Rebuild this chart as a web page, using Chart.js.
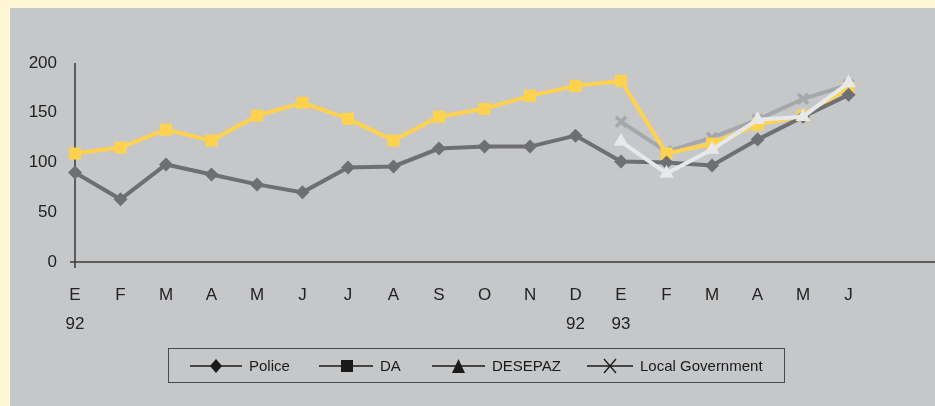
<!DOCTYPE html>
<html>
<head>
<meta charset="utf-8">
<script src="https://cdn.jsdelivr.net/npm/chart.js@4"></script>
<style>
  html, body { margin: 0; padding: 0; }
  body { width: 935px; height: 406px; background: #fff6d6; position: relative; overflow: hidden;
         font-family: "Liberation Sans", Arial, sans-serif; }
  #panel { position: absolute; left: 10px; top: 8px; right: 0; bottom: 0; background: #c6c7c9; }
  #wrap { position: absolute; left: 0; top: 0; width: 935px; height: 406px; }
  #legend { position: absolute; left: 168px; top: 348px; width: 615px; height: 33px;
            border: 1.5px solid #4a4a4a; }
  .item { position: absolute; top: 0; height: 33px; display: flex; align-items: center;
          font-size: 15px; color: #1a1a1a; white-space: nowrap; }
  .item svg { margin-right: 7px; }
</style>
</head>
<body>
<div id="panel"></div>
<div id="wrap"><canvas id="c" width="935" height="406"></canvas></div>
<div id="legend"></div>
<script>
const categories = [["E","92"],"F","M","A","M","J","J","A","S","O","N",["D","92"],["E","93"],"F","M","A","M","J"];
const police = [90, 63, 98, 88, 78, 70, 95, 96, 114, 116, 116, 127, 101, 100, 97, 123, 146, 168];
const da = [109, 115, 133, 122, 147, 160, 144, 122, 146, 154, 167, 177, 182, 109, 119, 138, 147, 175];
const desepaz = [null, null, null, null, null, null, null, null, null, null, null, null, 121, 89, 113, 143, 146, 180];
const localGov = [null, null, null, null, null, null, null, null, null, null, null, null, 141, 111, 125, 143, 164, 178];
const yTicks = [0, 50, 100, 150, 200];
const seriesNames = ["Police", "DA", "DESEPAZ", "Local Government"];

function pts(arr) {
  const out = [];
  arr.forEach((v, i) => { if (v !== null) out.push({x: i, y: v}); });
  return out;
}

const axisPlugin = {
  id: 'axisLines',
  beforeDatasetsDraw(chart) {
    const ctx = chart.ctx, xs = chart.scales.x, ys = chart.scales.y;
    const y0 = ys.getPixelForValue(0), x0 = xs.getPixelForValue(0);
    ctx.save();
    ctx.strokeStyle = '#3a3a3a';
    ctx.lineWidth = 1.5;
    ctx.beginPath();
    ctx.moveTo(xs.left - 5, y0); ctx.lineTo(xs.right, y0);
    ctx.moveTo(x0, ys.getPixelForValue(200)); ctx.lineTo(x0, y0 + 6);
    ctx.stroke();
    ctx.restore();
  }
};

const tickFont = { family: '"Liberation Sans", Arial, sans-serif', size: 17, lineHeight: '29px' };

new Chart(document.getElementById('c'), {
  type: 'line',
  data: {
    datasets: [
      { label: seriesNames[0], data: pts(police), borderColor: '#6e6f72', backgroundColor: '#6e6f72',
        borderWidth: 4, pointStyle: 'rectRot', pointRadius: 7, pointBorderWidth: 0, order: 1 },
      { label: seriesNames[1], data: pts(da), borderColor: '#fed24e', backgroundColor: '#fed24e',
        borderWidth: 4, pointStyle: 'rect', pointRadius: 8.5, pointBorderWidth: 0, order: 2 },
      { label: seriesNames[2], data: pts(desepaz), borderColor: '#e7e8e9', backgroundColor: '#e7e8e9',
        borderWidth: 4, pointStyle: 'triangle', pointRadius: 8.5, pointBorderWidth: 0, order: 0 },
      { label: seriesNames[3], data: pts(localGov), borderColor: '#a6a7aa', backgroundColor: '#a6a7aa',
        borderWidth: 4, pointStyle: 'crossRot', pointRadius: 7, pointBorderWidth: 3.5,
        pointBorderColor: '#a6a7aa', order: 3 }
    ]
  },
  options: {
    responsive: false,
    animation: false,
    clip: false,
    layout: { autoPadding: false, padding: { top: 63, bottom: 64, left: 0, right: 0 } },
    plugins: { legend: { display: false }, tooltip: { enabled: false } },
    elements: { line: { tension: 0 } },
    scales: {
      x: {
        type: 'linear', min: 0, max: 18.9,
        grid: { display: false, drawTicks: false },
        border: { display: false },
        afterBuildTicks(s) { s.ticks = categories.map((c, i) => ({ value: i })); },
        afterFit(s) { s.height = 80; s.paddingRight = 0; s.paddingLeft = 0; },
        ticks: {
          autoSkip: false, maxRotation: 0, padding: 19, color: '#222', font: tickFont,
          callback: (v) => categories[v]
        }
      },
      y: {
        min: 0, max: 200,
        grid: { display: false, drawTicks: false },
        border: { display: false },
        afterBuildTicks(s) { s.ticks = yTicks.map(v => ({ value: v })); },
        afterFit(s) { s.width = 75; },
        ticks: { padding: 18, color: '#222', font: { family: '"Liberation Sans", Arial, sans-serif', size: 17 } }
      }
    }
  },
  plugins: [axisPlugin]
});

// Legend (HTML, Excel style line + marker icons)
const icons = [
  '<svg width="52" height="16"><line x1="0" y1="8" x2="52" y2="8" stroke="#1a1a1a" stroke-width="1.3"/><polygon points="26,1 32,8 26,15 20,8" fill="#1a1a1a"/></svg>',
  '<svg width="54" height="16"><line x1="0" y1="8" x2="54" y2="8" stroke="#1a1a1a" stroke-width="1.3"/><rect x="22" y="2" width="12" height="12" fill="#1a1a1a"/></svg>',
  '<svg width="53" height="16"><line x1="0" y1="8" x2="53" y2="8" stroke="#1a1a1a" stroke-width="1.3"/><polygon points="26.5,1 33,15 20,15" fill="#1a1a1a"/></svg>',
  '<svg width="46" height="16"><line x1="0" y1="8" x2="46" y2="8" stroke="#1a1a1a" stroke-width="1.3"/><path d="M17 1 L29 15 M29 1 L17 15" stroke="#1a1a1a" stroke-width="1.3"/></svg>'
];
const lefts = [21, 150, 263, 418];
const lg = document.getElementById('legend');
seriesNames.forEach((n, i) => {
  const d = document.createElement('div');
  d.className = 'item';
  d.style.left = lefts[i] + 'px';
  d.innerHTML = icons[i] + '<span>' + n + '</span>';
  lg.appendChild(d);
});
</script>
</body>
</html>
